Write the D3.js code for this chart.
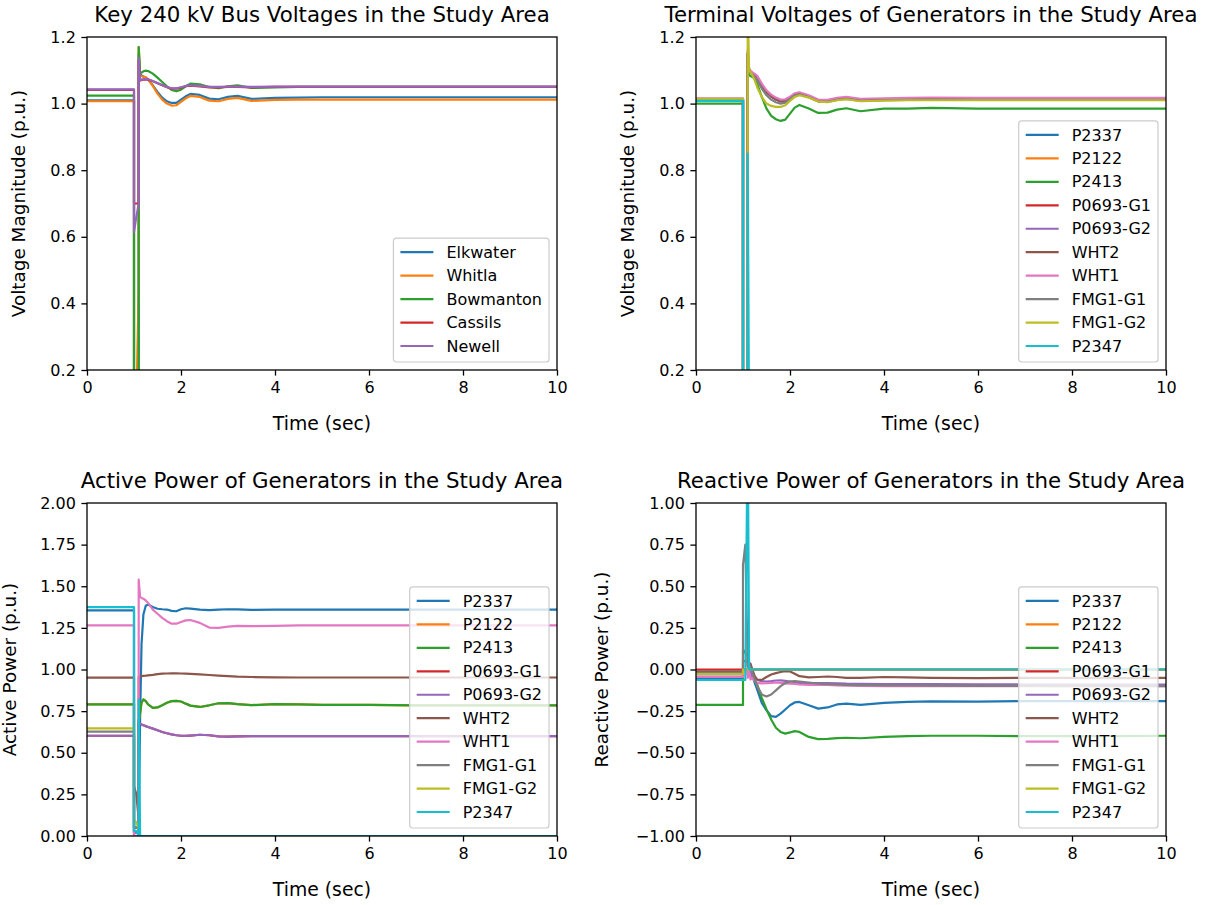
<!DOCTYPE html>
<html>
<head>
<meta charset="utf-8">
<script src="https://cdn.jsdelivr.net/npm/d3@7"></script>
<style>
  body { margin: 0; background: #fff; }
  svg { display: block; font-family: "DejaVu Sans", sans-serif; }
</style>
</head>
<body>
<svg id="fig" width="1211" height="905"></svg>
<script>
// Simulation time stamps (s). Repeated stamps mark the fault application and clearing.
const time = [0, 1.0, 1.0, 1.05, 1.1, 1.1, 1.13, 1.16, 1.2, 1.25, 1.3, 1.4, 1.5, 1.6, 1.7, 1.8, 1.9,
              2.0, 2.1, 2.2, 2.4, 2.6, 2.8, 3.0, 3.2, 3.5, 4.0, 4.5, 5.0, 6.0, 7.0, 8.0, 9.0, 10.0];

const busNames = ["Elkwater", "Whitla", "Bowmanton", "Cassils", "Newell"];
const genNames = ["P2337", "P2122", "P2413", "P0693-G1", "P0693-G2", "WHT2", "WHT1", "FMG1-G1", "FMG1-G2", "P2347"];

const timeTicks = [0, 2, 4, 6, 8, 10];
const timeTickLabels = ["0", "2", "4", "6", "8", "10"];
const voltTicks = [0.2, 0.4, 0.6, 0.8, 1.0, 1.2];
const voltTickLabels = ["0.2", "0.4", "0.6", "0.8", "1.0", "1.2"];
const pTicks = [0, 0.25, 0.5, 0.75, 1.0, 1.25, 1.5, 1.75, 2.0];
const pTickLabels = ["0.00", "0.25", "0.50", "0.75", "1.00", "1.25", "1.50", "1.75", "2.00"];
const qTicks = [-1.0, -0.75, -0.5, -0.25, 0, 0.25, 0.5, 0.75, 1.0];
const qTickLabels = ["\u22121.00", "\u22120.75", "\u22120.50", "\u22120.25", "0.00", "0.25", "0.50", "0.75", "1.00"];

// 240 kV bus voltages (p.u.)
const vElkwater  = [1.010, 1.010, 0.10, 0.10, 0.10, 1.15, 1.090, 1.085, 1.081, 1.078, 1.072, 1.055, 1.035, 1.018, 1.007, 1.002, 1.002, 1.012, 1.022, 1.029, 1.026, 1.015, 1.013, 1.020, 1.023, 1.014, 1.017, 1.018, 1.019, 1.019, 1.019, 1.019, 1.019, 1.019];
const vWhitla    = [1.007, 1.007, 0.10, 0.10, 0.44, 1.17, 1.085, 1.083, 1.081, 1.079, 1.073, 1.053, 1.030, 1.012, 1.000, 0.994, 0.995, 1.005, 1.016, 1.023, 1.020, 1.009, 1.007, 1.014, 1.017, 1.008, 1.011, 1.012, 1.012, 1.012, 1.012, 1.012, 1.012, 1.012];
const vBowmanton = [1.024, 1.024, 0.05, 0.05, 0.05, 1.17, 1.090, 1.093, 1.097, 1.099, 1.098, 1.090, 1.078, 1.065, 1.052, 1.041, 1.037, 1.042, 1.052, 1.060, 1.058, 1.050, 1.046, 1.052, 1.055, 1.047, 1.049, 1.050, 1.050, 1.050, 1.050, 1.050, 1.050, 1.050];
const vCassils   = [1.041, 1.041, 0.70, 0.70, 0.70, 1.13, 1.069, 1.071, 1.072, 1.073, 1.072, 1.067, 1.061, 1.055, 1.049, 1.045, 1.045, 1.048, 1.052, 1.054, 1.052, 1.049, 1.049, 1.050, 1.050, 1.049, 1.050, 1.050, 1.050, 1.050, 1.050, 1.050, 1.050, 1.050];
const vNewell    = [1.043, 1.043, 0.615, 0.66, 0.70, 1.137, 1.070, 1.072, 1.073, 1.074, 1.073, 1.068, 1.062, 1.056, 1.050, 1.046, 1.046, 1.049, 1.053, 1.055, 1.053, 1.050, 1.050, 1.051, 1.051, 1.050, 1.051, 1.051, 1.051, 1.051, 1.051, 1.051, 1.051, 1.051];

// Generator terminal voltages (p.u.)
const vtP2337   = [1.012, 1.012, 0.10, 0.10, 0.10, 1.15, 1.100, 1.095, 1.090, 1.085, 1.080, 1.055, 1.035, 1.022, 1.013, 1.007, 1.008, 1.017, 1.027, 1.030, 1.021, 1.008, 1.007, 1.013, 1.016, 1.010, 1.012, 1.013, 1.014, 1.013, 1.013, 1.013, 1.013, 1.013];
const vtP2122   = [1.012, 1.012, 0.10, 0.10, 0.10, 1.15, 1.100, 1.095, 1.090, 1.085, 1.080, 1.055, 1.035, 1.022, 1.013, 1.007, 1.008, 1.017, 1.027, 1.030, 1.021, 1.008, 1.007, 1.013, 1.016, 1.010, 1.012, 1.013, 1.014, 1.013, 1.013, 1.013, 1.013, 1.013];
const vtP2413   = [1.000, 1.000, 0.10, 0.10, 0.10, 1.10, 1.085, 1.083, 1.080, 1.075, 1.060, 1.020, 0.985, 0.963, 0.953, 0.948, 0.952, 0.970, 0.988, 0.996, 0.985, 0.972, 0.973, 0.982, 0.986, 0.977, 0.985, 0.985, 0.987, 0.985, 0.985, 0.985, 0.985, 0.985];
const vtP0693G1 = [1.012, 1.012, 0.10, 0.10, 0.10, 1.15, 1.100, 1.095, 1.090, 1.085, 1.080, 1.055, 1.035, 1.022, 1.013, 1.007, 1.008, 1.017, 1.027, 1.030, 1.021, 1.008, 1.007, 1.013, 1.016, 1.010, 1.012, 1.013, 1.014, 1.013, 1.013, 1.013, 1.013, 1.013];
const vtP0693G2 = [1.012, 1.012, 0.10, 0.10, 0.10, 1.15, 1.100, 1.095, 1.090, 1.085, 1.080, 1.055, 1.035, 1.022, 1.013, 1.007, 1.008, 1.017, 1.027, 1.030, 1.021, 1.008, 1.007, 1.013, 1.016, 1.010, 1.012, 1.013, 1.014, 1.013, 1.013, 1.013, 1.013, 1.013];
const vtWHT2    = [1.012, 1.012, 0.10, 0.10, 0.10, 1.15, 1.100, 1.095, 1.090, 1.085, 1.080, 1.055, 1.035, 1.022, 1.013, 1.007, 1.008, 1.017, 1.027, 1.030, 1.021, 1.008, 1.007, 1.013, 1.016, 1.010, 1.012, 1.013, 1.014, 1.013, 1.013, 1.013, 1.013, 1.013];
const vtWHT1    = [1.016, 1.016, 0.10, 0.10, 0.10, 1.16, 1.104, 1.099, 1.094, 1.089, 1.084, 1.060, 1.040, 1.027, 1.018, 1.012, 1.013, 1.021, 1.031, 1.034, 1.025, 1.012, 1.011, 1.017, 1.020, 1.014, 1.016, 1.017, 1.018, 1.017, 1.017, 1.017, 1.017, 1.017];
const vtFMG1G1  = [1.012, 1.012, 0.10, 0.10, 0.10, 1.15, 1.098, 1.092, 1.087, 1.080, 1.072, 1.045, 1.025, 1.012, 1.004, 1.000, 1.003, 1.014, 1.025, 1.028, 1.019, 1.006, 1.005, 1.011, 1.014, 1.008, 1.010, 1.011, 1.012, 1.011, 1.011, 1.011, 1.011, 1.011];
const vtFMG1G2  = [1.014, 1.014, 0.10, 0.10, 0.10, 1.30, 1.100, 1.095, 1.085, 1.070, 1.050, 1.020, 1.000, 0.993, 0.990, 0.990, 0.995, 1.008, 1.020, 1.025, 1.018, 1.006, 1.004, 1.010, 1.013, 1.007, 1.009, 1.010, 1.010, 1.010, 1.010, 1.010, 1.010, 1.010];
const vtP2347   = [1.008, 1.008, 0.0, 0.0, 0.0, 0.85, 0.0, 0.0, 0.0, 0.0, 0.0, 0.0, 0.0, 0.0, 0.0, 0.0, 0.0, 0.0, 0.0, 0.0, 0.0, 0.0, 0.0, 0.0, 0.0, 0.0, 0.0, 0.0, 0.0, 0.0, 0.0, 0.0, 0.0, 0.0];

// Generator active power (p.u.)
const pP2337   = [1.355, 1.355, 0.0, 0.0, 0.0, 0.05, 0.70, 1.15, 1.33, 1.383, 1.390, 1.375, 1.365, 1.362, 1.360, 1.352, 1.350, 1.362, 1.368, 1.366, 1.360, 1.357, 1.360, 1.362, 1.361, 1.358, 1.360, 1.360, 1.360, 1.360, 1.360, 1.360, 1.360, 1.360];
const pP2122   = [0.791, 0.791, 0.05, 0.05, 0.05, 0.69, 0.74, 0.80, 0.82, 0.81, 0.79, 0.77, 0.772, 0.785, 0.800, 0.810, 0.812, 0.808, 0.795, 0.783, 0.775, 0.785, 0.797, 0.798, 0.792, 0.786, 0.792, 0.790, 0.788, 0.787, 0.785, 0.785, 0.785, 0.785];
const pP2413   = [0.791, 0.791, 0.05, 0.05, 0.05, 0.69, 0.74, 0.80, 0.82, 0.81, 0.79, 0.77, 0.772, 0.785, 0.800, 0.810, 0.812, 0.808, 0.795, 0.783, 0.775, 0.785, 0.797, 0.798, 0.792, 0.786, 0.792, 0.790, 0.788, 0.787, 0.785, 0.785, 0.785, 0.785];
const pP0693G1 = [0.602, 0.602, 0.02, 0.02, 0.02, 0.68, 0.675, 0.670, 0.665, 0.660, 0.655, 0.645, 0.635, 0.625, 0.617, 0.610, 0.605, 0.602, 0.601, 0.603, 0.608, 0.605, 0.598, 0.597, 0.598, 0.600, 0.600, 0.600, 0.600, 0.600, 0.600, 0.600, 0.600, 0.600];
const pP0693G2 = [0.602, 0.602, 0.02, 0.02, 0.02, 0.68, 0.675, 0.670, 0.665, 0.660, 0.655, 0.645, 0.635, 0.625, 0.617, 0.610, 0.605, 0.602, 0.601, 0.603, 0.608, 0.605, 0.598, 0.597, 0.598, 0.600, 0.600, 0.600, 0.600, 0.600, 0.600, 0.600, 0.600, 0.600];
const pWHT2    = [0.951, 0.951, 0.30, 0.25, 0.10, 0.955, 0.958, 0.960, 0.962, 0.963, 0.965, 0.968, 0.972, 0.975, 0.976, 0.977, 0.977, 0.976, 0.975, 0.974, 0.971, 0.967, 0.963, 0.960, 0.957, 0.955, 0.953, 0.952, 0.952, 0.952, 0.952, 0.952, 0.952, 0.952];
const pWHT1    = [1.265, 1.265, 0.0, 0.0, 0.0, 1.54, 1.435, 1.430, 1.425, 1.415, 1.400, 1.360, 1.335, 1.310, 1.290, 1.275, 1.275, 1.285, 1.295, 1.297, 1.280, 1.252, 1.250, 1.258, 1.262, 1.260, 1.262, 1.265, 1.265, 1.265, 1.265, 1.265, 1.265, 1.265];
const pFMG1G1  = [0.627, 0.627, 0.05, 0.05, 0.05, 0.0, 0.0, 0.0, 0.0, 0.0, 0.0, 0.0, 0.0, 0.0, 0.0, 0.0, 0.0, 0.0, 0.0, 0.0, 0.0, 0.0, 0.0, 0.0, 0.0, 0.0, 0.0, 0.0, 0.0, 0.0, 0.0, 0.0, 0.0, 0.0];
const pFMG1G2  = [0.647, 0.647, 0.10, 0.08, 0.05, 0.0, 0.0, 0.0, 0.0, 0.0, 0.0, 0.0, 0.0, 0.0, 0.0, 0.0, 0.0, 0.0, 0.0, 0.0, 0.0, 0.0, 0.0, 0.0, 0.0, 0.0, 0.0, 0.0, 0.0, 0.0, 0.0, 0.0, 0.0, 0.0];
const pP2347   = [1.375, 1.375, 0.03, 0.03, 0.0, 0.82, 0.0, 0.0, 0.0, 0.0, 0.0, 0.0, 0.0, 0.0, 0.0, 0.0, 0.0, 0.0, 0.0, 0.0, 0.0, 0.0, 0.0, 0.0, 0.0, 0.0, 0.0, 0.0, 0.0, 0.0, 0.0, 0.0, 0.0, 0.0];

// Generator reactive power (p.u.)
const qP2337   = [-0.050, -0.050, 0.0, 0.0, 0.0, 0.0, 0.02, 0.0, -0.04, -0.08, -0.12, -0.200, -0.245, -0.280, -0.285, -0.265, -0.240, -0.215, -0.198, -0.195, -0.215, -0.235, -0.228, -0.210, -0.205, -0.212, -0.200, -0.195, -0.192, -0.193, -0.190, -0.190, -0.190, -0.190];
const qP2122   = [-0.027, -0.027, 0.0, 0.0, 0.0, 0.0, 0.0, 0.0, 0.0, 0.0, 0.0, 0.0, 0.0, 0.0, 0.0, 0.0, 0.0, 0.0, 0.0, 0.0, 0.0, 0.0, 0.0, 0.0, 0.0, 0.0, 0.0, 0.0, 0.0, 0.0, 0.0, 0.0, 0.0, 0.0];
const qP2413   = [-0.213, -0.213, 0.12, 0.10, 0.08, 0.04, 0.03, 0.0, -0.03, -0.06, -0.09, -0.170, -0.240, -0.300, -0.350, -0.375, -0.385, -0.378, -0.370, -0.375, -0.405, -0.418, -0.417, -0.412, -0.410, -0.413, -0.405, -0.400, -0.398, -0.398, -0.400, -0.400, -0.400, -0.398];
const qP0693G1 = [0.0, 0.0, 0.0, 0.0, 0.0, 0.0, 0.0, 0.0, 0.0, 0.0, 0.0, 0.0, 0.0, 0.0, 0.0, 0.0, 0.0, 0.0, 0.0, 0.0, 0.0, 0.0, 0.0, 0.0, 0.0, 0.0, 0.0, 0.0, 0.0, 0.0, 0.0, 0.0, 0.0, 0.0];
const qP0693G2 = [-0.043, -0.043, 0.0, 0.0, 0.0, -0.03, 0.0, -0.02, -0.04, -0.055, -0.062, -0.070, -0.072, -0.070, -0.066, -0.065, -0.068, -0.072, -0.076, -0.080, -0.083, -0.082, -0.082, -0.083, -0.085, -0.086, -0.088, -0.088, -0.088, -0.089, -0.090, -0.090, -0.090, -0.090];
const qWHT2    = [-0.011, -0.011, 0.05, 0.05, 0.05, 0.02, 0.04, 0.035, 0.0, -0.04, -0.06, -0.062, -0.045, -0.030, -0.022, -0.015, -0.010, -0.012, -0.025, -0.040, -0.047, -0.045, -0.042, -0.045, -0.050, -0.050, -0.045, -0.047, -0.050, -0.052, -0.050, -0.050, -0.052, -0.050];
const qWHT1    = [-0.045, -0.045, 0.0, 0.0, 0.0, -0.05, -0.01, -0.06, -0.05, -0.07, -0.08, -0.083, -0.082, -0.080, -0.078, -0.080, -0.083, -0.085, -0.087, -0.090, -0.093, -0.092, -0.092, -0.095, -0.097, -0.098, -0.100, -0.100, -0.100, -0.100, -0.100, -0.100, -0.100, -0.100];
const qFMG1G1  = [-0.020, -0.020, 0.63, 0.75, 0.02, 0.02, 0.03, 0.01, -0.02, -0.06, -0.10, -0.150, -0.162, -0.150, -0.125, -0.100, -0.082, -0.072, -0.070, -0.072, -0.078, -0.085, -0.088, -0.090, -0.092, -0.094, -0.095, -0.096, -0.097, -0.098, -0.099, -0.100, -0.100, -0.100];
const qFMG1G2  = [-0.027, -0.027, 0.0, 0.0, 0.0, 0.0, 0.0, 0.0, 0.0, 0.0, 0.0, 0.0, 0.0, 0.0, 0.0, 0.0, 0.0, 0.0, 0.0, 0.0, 0.0, 0.0, 0.0, 0.0, 0.0, 0.0, 0.0, 0.0, 0.0, 0.0, 0.0, 0.0, 0.0, 0.0];
const qP2347   = [-0.063, -0.063, -0.063, -0.063, 1.5, 1.5, 0.0, 0.0, 0.0, 0.0, 0.0, 0.0, 0.0, 0.0, 0.0, 0.0, 0.0, 0.0, 0.0, 0.0, 0.0, 0.0, 0.0, 0.0, 0.0, 0.0, 0.0, 0.0, 0.0, 0.0, 0.0, 0.0, 0.0, 0.0];

const colors = ["#1f77b4", "#ff7f0e", "#2ca02c", "#d62728", "#9467bd",
                "#8c564b", "#e377c2", "#7f7f7f", "#bcbd22", "#17becf"];

const PW = 470, PH = 333;
const panels = [
  { title: "Key 240 kV Bus Voltages in the Study Area", ylabel: "Voltage Magnitude (p.u.)",
    left: 87, top: 37, yDomain: [0.2, 1.2], yTicks: voltTicks, yTickLabels: voltTickLabels, ylabelX: 19,
    names: busNames, series: [vElkwater, vWhitla, vBowmanton, vCassils, vNewell] },
  { title: "Terminal Voltages of Generators in the Study Area", ylabel: "Voltage Magnitude (p.u.)",
    left: 696, top: 37, yDomain: [0.2, 1.2], yTicks: voltTicks, yTickLabels: voltTickLabels, ylabelX: 628,
    names: genNames, series: [vtP2337, vtP2122, vtP2413, vtP0693G1, vtP0693G2, vtWHT2, vtWHT1, vtFMG1G1, vtFMG1G2, vtP2347] },
  { title: "Active Power of Generators in the Study Area", ylabel: "Active Power (p.u.)",
    left: 87, top: 503, yDomain: [0, 2], yTicks: pTicks, yTickLabels: pTickLabels, ylabelX: 10,
    names: genNames, series: [pP2337, pP2122, pP2413, pP0693G1, pP0693G2, pWHT2, pWHT1, pFMG1G1, pFMG1G2, pP2347] },
  { title: "Reactive Power of Generators in the Study Area", ylabel: "Reactive Power (p.u.)",
    left: 696, top: 503, yDomain: [-1, 1], yTicks: qTicks, yTickLabels: qTickLabels, ylabelX: 602,
    names: genNames, series: [qP2337, qP2122, qP2413, qP0693G1, qP0693G2, qWHT2, qWHT1, qFMG1G1, qFMG1G2, qP2347] }
];

const svg = d3.select("#fig");
const TICK = 5.6, PAD = 5.6;

panels.forEach((p, pi) => {
  const x = d3.scaleLinear().domain([0, 10]).range([0, PW]);
  const y = d3.scaleLinear().domain(p.yDomain).range([PH, 0]);
  const g = svg.append("g").attr("transform", `translate(${p.left},${p.top})`);

  const clipId = "clip" + pi;
  g.append("clipPath").attr("id", clipId)
    .append("rect").attr("x", 0).attr("y", 0).attr("width", PW).attr("height", PH);

  // traces
  const line = d3.line().x(d => x(d[0])).y(d => y(d[1]));
  const traces = g.append("g").attr("clip-path", `url(#${clipId})`);
  p.series.forEach((vals, si) => {
    traces.append("path")
      .attr("d", line(time.map((t, i) => [t, vals[i]])))
      .attr("fill", "none")
      .attr("stroke", colors[si])
      .attr("stroke-width", 2.2)
      .attr("stroke-linejoin", "round");
  });

  // axes
  const xAxis = d3.axisBottom(x).tickValues(timeTicks)
    .tickFormat((d, i) => timeTickLabels[i]).tickSize(TICK).tickPadding(PAD);
  const yAxis = d3.axisLeft(y).tickValues(p.yTicks)
    .tickFormat((d, i) => p.yTickLabels[i]).tickSize(TICK).tickPadding(PAD);
  const gx = g.append("g").attr("transform", `translate(0,${PH})`).call(xAxis);
  const gy = g.append("g").call(yAxis);
  [gx, gy].forEach(a => {
    a.select(".domain").remove();
    a.selectAll(".tick line").attr("stroke", "#000").attr("stroke-width", 1.3);
    a.selectAll(".tick text").attr("fill", "#000")
      .style("font-family", "'DejaVu Sans', sans-serif").style("font-size", "16px");
  });

  // spines
  g.append("rect").attr("x", 0).attr("y", 0).attr("width", PW).attr("height", PH)
    .attr("fill", "none").attr("stroke", "#000").attr("stroke-width", 1.3);

  // title and axis labels
  g.append("text").attr("x", PW / 2).attr("y", -15.5)
    .attr("text-anchor", "middle").style("font-size", "21.3px").text(p.title);
  g.append("text").attr("x", PW / 2).attr("y", PH + 60)
    .attr("text-anchor", "middle").style("font-size", "18.8px").text("Time (sec)");
  svg.append("text")
    .attr("transform", `translate(${p.ylabelX},${p.top + PH / 2}) rotate(-90)`)
    .attr("text-anchor", "middle").attr("dy", "0.35em")
    .style("font-size", "18.4px").text(p.ylabel);

  // legend (lower right)
  const lg = g.append("g");
  const box = lg.append("rect").attr("rx", 3).attr("ry", 3)
    .attr("fill", "#fff").attr("fill-opacity", 0.8)
    .attr("stroke", "#cccccc").attr("stroke-width", 1.2);
  const rowH = 23.45;
  const items = p.names.map((name, i) => {
    const row = lg.append("g").attr("transform", `translate(0,${i * rowH})`);
    row.append("line").attr("x1", 0).attr("x2", 33).attr("y1", 0).attr("y2", 0)
      .attr("stroke", colors[i]).attr("stroke-width", 2.2);
    const t = row.append("text").attr("x", 46).attr("dy", "0.35em")
      .style("font-size", "16px").text(name);
    return t.node().getComputedTextLength();
  });
  const textW = d3.max(items);
  const boxW = 7 + 33 + 13 + textW + 7;
  const boxH = 14 + (p.names.length - 1) * rowH + 16;
  const bx = PW - 8 - boxW, by = PH - 8 - boxH;
  box.attr("x", -7).attr("y", -14).attr("width", boxW).attr("height", boxH);
  lg.attr("transform", `translate(${bx + 7},${by + 14})`);
});
</script>
</body>
</html>
